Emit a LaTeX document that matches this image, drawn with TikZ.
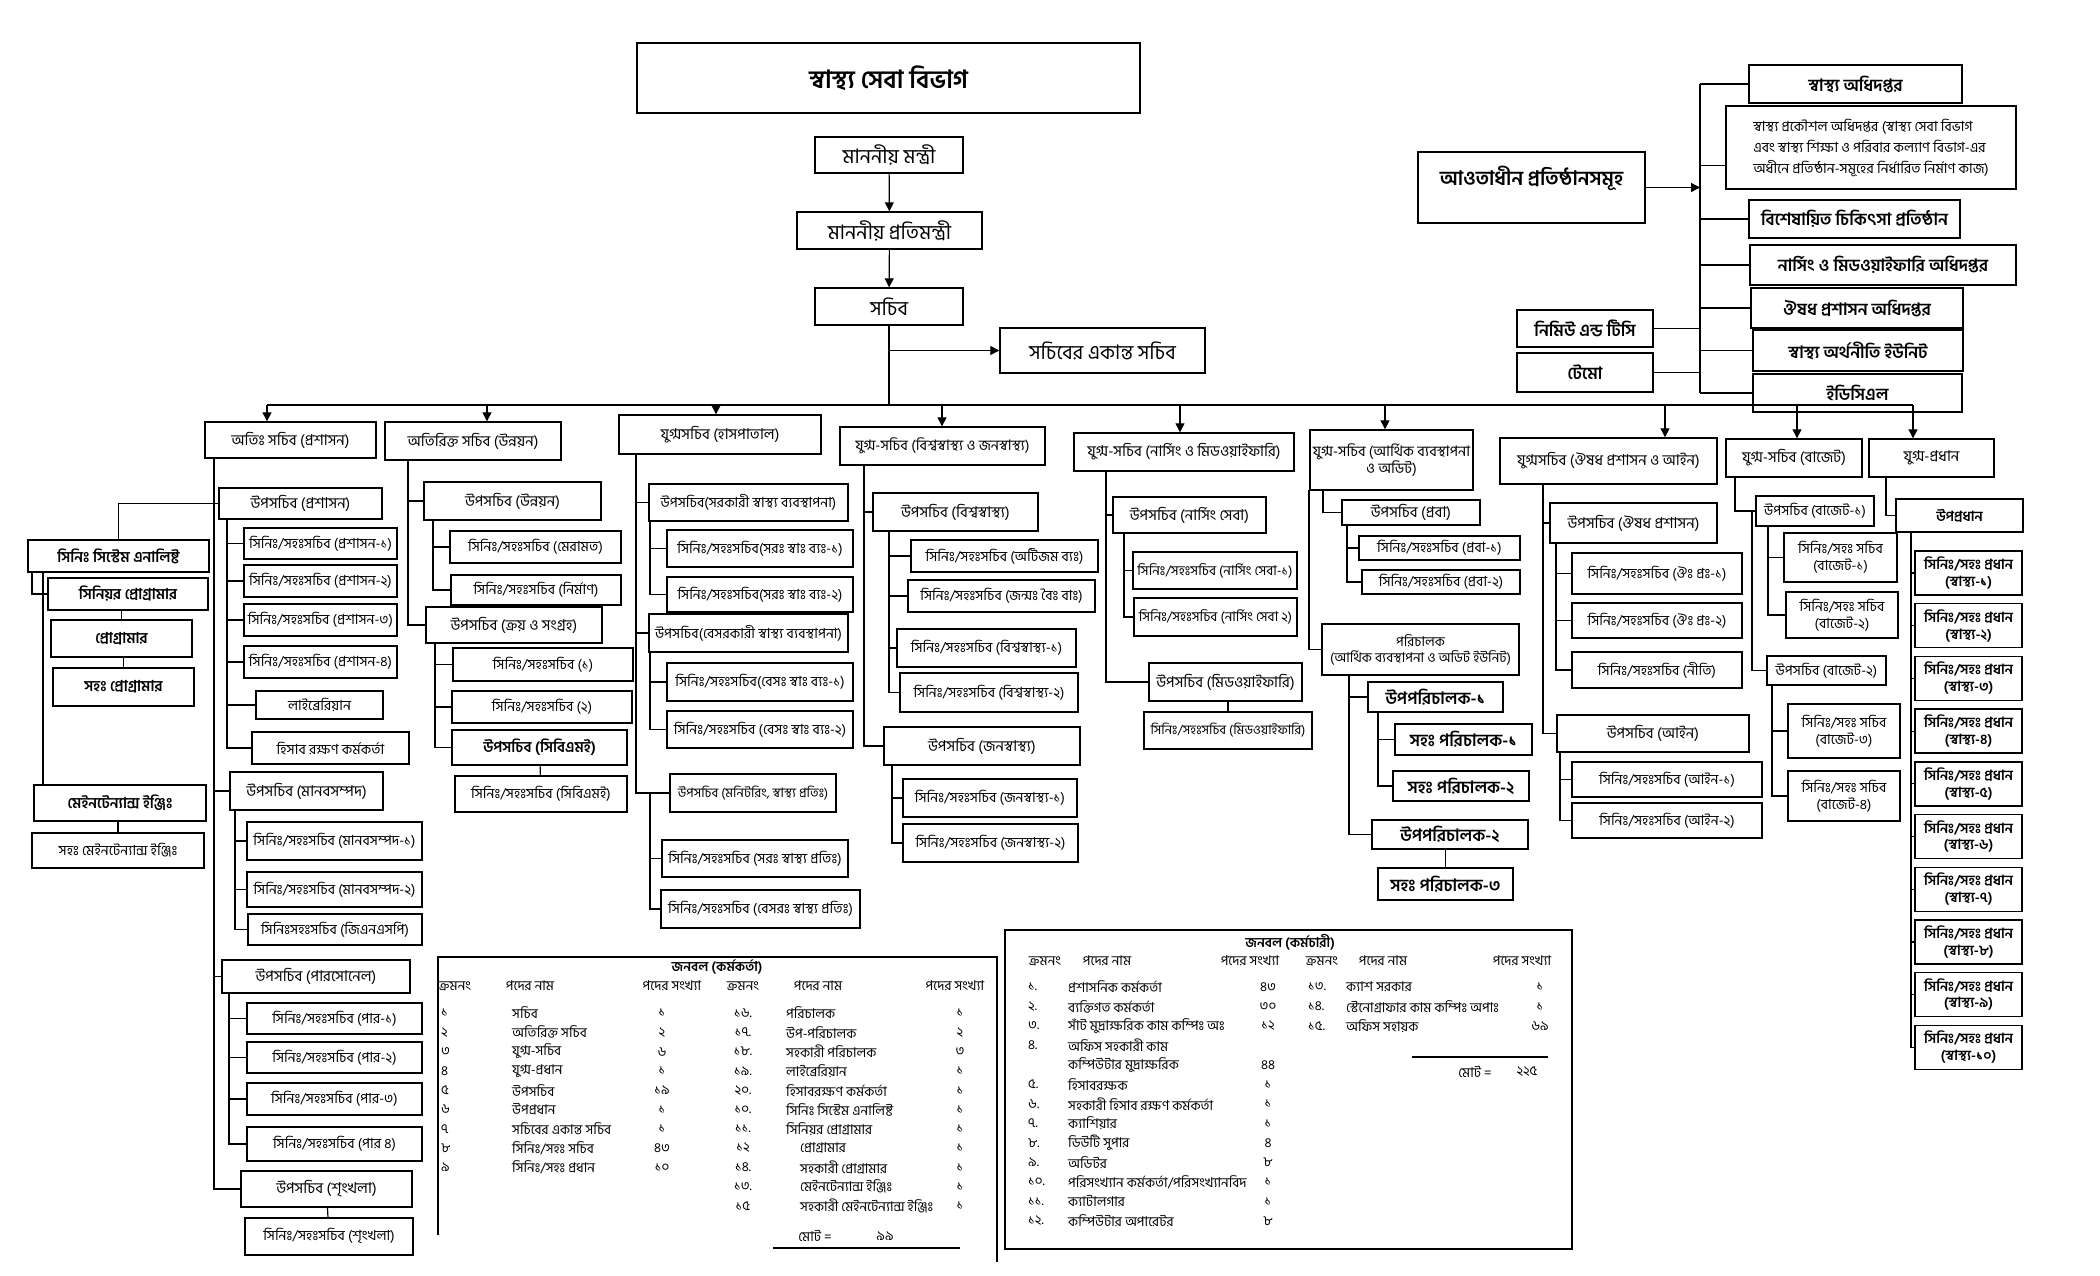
\documentclass[tikz,border=0pt]{standalone}
\usepackage{fontspec}
\newfontfamily\bn[Script=Bengali]{Hind Siliguri}
\usetikzlibrary{positioning, arrows.meta}

\tikzset{
  box/.style={draw, line width=1.4pt, inner sep=1pt, align=center, font=\bn\fontsize{14}{17}\selectfont},
  sz/.style 2 args={minimum width=#1, minimum height=#2},
  fsz/.style={font=\bn\pgfmathsetmacro\bsk{#1*1.2}\fontsize{#1}{\bsk}\selectfont},
  fbz/.style={font=\bn\bfseries\pgfmathsetmacro\bsk{#1*1.2}\fontsize{#1}{\bsk}\selectfont},
  mid/.style={fsz=15},
  big/.style={fsz=20},
  inst/.style={fbz=17},
  link/.style={line width=1.2pt},
  arr/.style={line width=1.2pt, -{Triangle[length=9pt,width=9pt]}},
  tab/.style={font=\bn\fontsize{13.5}{16}\selectfont, inner sep=0pt},
}

\begin{document}
\begin{tikzpicture}[x=1pt, y=-1pt]
    \useasboundingbox (0,0) rectangle (2100,1275);

    % ==========================================
    % 1. VERTICE (titolo, ministri, segretario)
    % ==========================================
    \node[box, sz={503}{70}, fbz=25] (titolo) at (888.5,78) {স্বাস্থ্য সেবা বিভাগ};
    \node[box, big, sz={148}{36}] (mantri) at (889,155) {মাননীয় মন্ত্রী};
    \node[box, big, sz={185}{37}] (pratimantri) at (889.5,230.5) {মাননীয় প্রতিমন্ত্রী};
    \node[box, big, sz={148}{37}] (sachib) at (889,306.5) {সচিব};
    \node[box, big, sz={205}{45}] (ps) at (1102.5,350.5) {সচিবের একান্ত সচিব};

    \draw[arr] (mantri) -- (pratimantri);
    \draw[arr] (pratimantri) -- (sachib);
    \coordinate (psb) at (889,350.5);
    \draw[arr] (psb) -- (ps.west);

    % ==========================================
    % 2. ISTITUZIONI SUBORDINATE (in alto a destra)
    % ==========================================
    \node[box, fbz=20, sz={227}{71}, text depth=24pt] (awt) at (1531.5,187.5) {আওতাধীন প্রতিষ্ঠানসমূহ};
    \node[box, inst, sz={213}{38}] (r1) at (1855.5,84) {স্বাস্থ্য অধিদপ্তর};
    \node[box, sz={290}{83}, align=left, font=\bn\fontsize{14}{21}\selectfont] (r2) at (1871,147.5) {স্বাস্থ্য প্রকৌশল অধিদপ্তর (স্বাস্থ্য সেবা বিভাগ\\এবং স্বাস্থ্য শিক্ষা ও পরিবার কল্যাণ বিভাগ-এর\\অধীনে প্রতিষ্ঠান-সমূহের নির্ধারিত নির্মাণ কাজ)};
    \node[box, inst, sz={211}{38}] (r3) at (1854.5,219) {বিশেষায়িত চিকিৎসা প্রতিষ্ঠান};
    \node[box, inst, sz={266}{40}, line width=2pt] (r4) at (1883,265) {নার্সিং ও মিডওয়াইফারি অধিদপ্তর};
    \node[box, inst, sz={212}{40}] (r5) at (1857,308) {ঔষধ প্রশাসন অধিদপ্তর};
    \node[box, inst, sz={210}{41}] (r6) at (1858,350.5) {স্বাস্থ্য অর্থনীতি ইউনিট};
    \node[box, inst, sz={209}{38}] (r7) at (1857.5,393) {ইডিসিএল};
    \node[box, inst, sz={136}{37}] (nim) at (1585,328.5) {নিমিউ এন্ড টিসি};
    \node[box, inst, sz={136}{39}] (tem) at (1585,372.5) {টেমো};

    \coordinate (rv) at (1700,187.5);
    \draw[arr] (awt.east) -- (rv);
    \draw[link] (r1.west -| rv) -- (r7.west -| rv);
    \foreach \n in {r1,r3,r4,r5,r6,r7}
        \draw[link] (\n.west -| rv) -- (\n.west);
    \draw[link] ([yshift=-18pt]r2.west -| rv) -- ([yshift=-18pt]r2.west);
    \draw[link] (nim.east) -- (nim.east -| rv);
    \draw[link] (tem.east) -- (tem.east -| rv);

    % ==========================================
    % 3. SEGRETARI AGGIUNTI (livello 1)
    % ==========================================
    \node[box, mid, sz={171}{36}] (j1) at (290.5,440) {অতিঃ সচিব (প্রশাসন)};
    \node[box, mid, sz={176}{38}] (j2) at (473,441) {অতিরিক্ত সচিব (উন্নয়ন)};
    \node[box, mid, sz={202}{39}] (j3) at (720,434.5) {যুগ্মসচিব (হাসপাতাল)};
    \node[box, fsz=14.5, sz={205}{38}] (j4) at (942.5,446) {যুগ্ম-সচিব (বিশ্বস্বাস্থ্য ও জনস্বাস্থ্য)};
    \node[box, mid, sz={220}{38}] (j5) at (1184,452) {যুগ্ম-সচিব (নার্সিং ও মিডওয়াইফারি)};
    \node[box, fsz=14.5, sz={163}{60}] (j6) at (1391.5,460) {যুগ্ম-সচিব (আর্থিক ব্যবস্থাপনা\\ও অডিট)};
    \node[box, mid, sz={217}{46}] (j7) at (1608.5,461) {যুগ্মসচিব (ঔষধ প্রশাসন ও আইন)};
    \node[box, mid, sz={136}{38}] (j8) at (1794,458) {যুগ্ম-সচিব (বাজেট)};
    \node[box, mid, sz={125}{38}] (j9) at (1931.5,458) {যুগ্ম-প্রধান};

    % bus orizzontale con le frecce
    \foreach \n/\x in {j1/267,j2/487,j3/716,j4/942,j5/1180,j6/1385,j7/1665,j8/1797,j9/1913} {
        \coordinate (b\n) at (\x,405);
        \draw[arr] (b\n) -- (b\n |- \n.north);
    }
    \draw[link] (bj1) -- (bj9);
    \draw[link] (sachib.south) -- (sachib.south |- bj1);

    % ==========================================
    % 4. COLONNA 1 - ATIRIKTA SACHIB (PRASHASAN)
    % ==========================================
    \node[box, mid, sz={163}{31}] (ups1) at (300.5,503.5) {উপসচিব (প্রশাসন)};
    \node[box, sz={153}{31}] (p1) at (320.5,543.5) {সিনিঃ/সহঃসচিব (প্রশাসন-১)};
    \node[box, sz={153}{32}] (p2) at (320.5,581) {সিনিঃ/সহঃসচিব (প্রশাসন-২)};
    \node[box, sz={153}{32}] (p3) at (320.5,620) {সিনিঃ/সহঃসচিব (প্রশাসন-৩)};
    \node[box, sz={153}{32}] (p4) at (320.5,662) {সিনিঃ/সহঃসচিব (প্রশাসন-৪)};
    \node[box, sz={127}{28}] (lib) at (319.5,705) {লাইব্রেরিয়ান};
    \node[box, sz={157}{32}] (aco) at (330.5,748) {হিসাব রক্ষণ কর্মকর্তা};
    \node[box, mid, sz={153}{38}] (ups2) at (306.5,791) {উপসচিব (মানবসম্পদ)};
    \node[box, sz={175}{38}] (hr1) at (334.5,841) {সিনিঃ/সহঃসচিব (মানবসম্পদ-১)};
    \node[box, sz={175}{35}] (hr2) at (334.5,889.5) {সিনিঃ/সহঃসচিব (মানবসম্পদ-২)};
    \node[box, sz={174}{31}] (gn) at (335,929.5) {সিনিঃসহঃসচিব (জিএনএসপি)};
    \node[box, mid, sz={188}{33}] (ups3) at (316,976.5) {উপসচিব (পারসোনেল)};
    \node[box, sz={175}{31}] (pr1) at (334.5,1018.5) {সিনিঃ/সহঃসচিব (পার-১)};
    \node[box, sz={175}{31}] (pr2) at (334.5,1057.5) {সিনিঃ/সহঃসচিব (পার-২)};
    \node[box, sz={175}{32}] (pr3) at (334.5,1099) {সিনিঃ/সহঃসচিব (পার-৩)};
    \node[box, sz={175}{34}] (pr4) at (334.5,1144) {সিনিঃ/সহঃসচিব (পার ৪)};
    \node[box, mid, sz={171}{36}] (ups4) at (326.5,1189) {উপসচিব (শৃংখলা)};
    \node[box, sz={168}{37}] (dis1) at (329,1236.5) {সিনিঃ/সহঃসচিব (শৃংখলা)};

    \coordinate (c1) at (214,458);
    \foreach \n in {ups1,ups2,ups3,ups4} \draw[link] (c1) |- (\n.west);
    \coordinate (c1a) at (227,519);
    \foreach \n in {p1,p2,p3,p4,lib,aco} \draw[link] (c1a) |- (\n.west);
    \coordinate (c1b) at (235,810);
    \foreach \n in {hr1,hr2,gn} \draw[link] (c1b) |- (\n.west);
    \coordinate (c1c) at (229,993);
    \foreach \n in {pr1,pr2,pr3,pr4} \draw[link] (c1c) |- (\n.west);
    \draw[link] (ups4) -- (dis1);

    % sezione informatica (a sinistra)
    \node[box, fbz=15, sz={181}{32}] (ssa) at (118.5,556) {সিনিঃ সিস্টেম এনালিষ্ট};
    \node[box, fbz=15, sz={160}{32}] (sp) at (128,594) {সিনিয়র প্রোগ্রামার};
    \node[box, fbz=15, sz={141}{37}] (pg) at (121.5,638.5) {প্রোগ্রামার};
    \node[box, fbz=15, sz={141}{38}] (apg) at (123.5,687) {সহঃ প্রোগ্রামার};
    \node[box, fbz=15, sz={172}{36}] (me) at (120,803) {মেইনটেন্যান্স ইঞ্জিঃ};
    \node[box, fsz=14, sz={172}{35}] (ame) at (118,850.5) {সহঃ মেইনটেন্যান্স ইঞ্জিঃ};

    \draw[link] (ups1.west) -| (ssa.north);
    \coordinate (ita) at (32,572);
    \draw[link] (ita) |- (sp.west);
    \coordinate (itb) at (43,572);
    \draw[link] (itb) -- (itb |- me.north);
    \draw[link] (pg.north) -- (pg.north |- sp.south);
    \draw[link] (apg.north) -- (apg.north |- pg.south);
    \draw[link] (ame.north) -- (ame.north |- me.south);

    % ==========================================
    % 5. COLONNA 2 - ATIRIKTA SACHIB (UNNAYAN)
    % ==========================================
    \node[box, mid, sz={177}{38}] (ud) at (512.5,501) {উপসচিব (উন্নয়ন)};
    \node[box, sz={171}{32}] (mr) at (535.5,547) {সিনিঃ/সহঃসচিব (মেরামত)};
    \node[box, sz={170}{30}] (nr) at (536,590) {সিনিঃ/সহঃসচিব (নির্মাণ)};
    \node[box, mid, sz={176}{36}] (kr) at (514,625) {উপসচিব (ক্রয় ও সংগ্রহ)};
    \node[box, sz={180}{33}] (k1) at (543,664.5) {সিনিঃ/সহঃসচিব (১)};
    \node[box, sz={180}{32}] (k2) at (542,707) {সিনিঃ/সহঃসচিব (২)};
    \node[box, fbz=15, sz={175}{35}] (cb) at (539.5,747.5) {উপসচিব (সিবিএমই)};
    \node[box, sz={172}{36}] (cb1) at (541,794) {সিনিঃ/সহঃসচিব (সিবিএমই)};

    \coordinate (c2) at (408,460);
    \foreach \n in {ud,kr} \draw[link] (c2) |- (\n.west);
    \coordinate (c2a) at (433,520);
    \foreach \n in {mr,nr} \draw[link] (c2a) |- (\n.west);
    \coordinate (c2b) at (435,643);
    \foreach \n in {k1,k2,cb} \draw[link] (c2b) |- (\n.west);
    \draw[link] (cb) -- (cb1);

    % ==========================================
    % 6. COLONNA 3 - OSPEDALI
    % ==========================================
    \node[box, sz={199}{37}] (sg) at (748.5,502.5) {উপসচিব(সরকারী স্বাস্থ্য ব্যবস্থাপনা)};
    \node[box, sz={186}{37}] (sg1) at (760,548.5) {সিনিঃ/সহঃসচিব(সরঃ স্বাঃ ব্যঃ-১)};
    \node[box, sz={186}{35}] (sg2) at (760,594.5) {সিনিঃ/সহঃসচিব(সরঃ স্বাঃ ব্যঃ-২)};
    \node[box, sz={199}{38}] (pv) at (748.5,633) {উপসচিব(বেসরকারী স্বাস্থ্য ব্যবস্থাপনা)};
    \node[box, sz={186}{38}] (pv1) at (760,682) {সিনিঃ/সহঃসচিব(বেসঃ স্বাঃ ব্যঃ-১)};
    \node[box, sz={186}{37}] (pv2) at (760,729.5) {সিনিঃ/সহঃসচিব (বেসঃ স্বাঃ ব্যঃ-২)};
    \node[box, fsz=13, sz={166}{38}] (mn) at (753,793) {উপসচিব (মনিটরিং, স্বাস্থ্য প্রতিঃ)};
    \node[box, sz={186}{37}] (mn1) at (755,858.5) {সিনিঃ/সহঃসচিব (সরঃ স্বাস্থ্য প্রতিঃ)};
    \node[box, sz={199}{38}] (mn2) at (760.5,909) {সিনিঃ/সহঃসচিব (বেসরঃ স্বাস্থ্য প্রতিঃ)};

    \coordinate (c3) at (636,454);
    \foreach \n in {sg,pv,mn} \draw[link] (c3) |- (\n.west);
    \coordinate (c3a) at (650,521);
    \foreach \n in {sg1,sg2} \draw[link] (c3a) |- (\n.west);
    \coordinate (c3b) at (650,652);
    \foreach \n in {pv1,pv2} \draw[link] (c3b) |- (\n.west);
    \coordinate (c3c) at (650,793);
    \foreach \n in {mn1,mn2} \draw[link] (c3c) |- (\n.west);

    % ==========================================
    % 7. COLONNA 4 - SALUTE GLOBALE E PUBBLICA
    % ==========================================
    \node[box, mid, sz={165}{38}] (wh) at (955.5,512) {উপসচিব (বিশ্বস্বাস্থ্য)};
    \node[box, sz={187}{32}] (wh1) at (1004.5,556) {সিনিঃ/সহঃসচিব (অটিজম ব্যঃ)};
    \node[box, sz={187}{32}] (wh2) at (1001.5,596) {সিনিঃ/সহঃসচিব (জন্মঃ বৈঃ বাঃ)};
    \node[box, sz={179}{38}] (wh3) at (986.5,648) {সিনিঃ/সহঃসচিব (বিশ্বস্বাস্থ্য-১)};
    \node[box, sz={178}{39}] (wh4) at (989,692.5) {সিনিঃ/সহঃসচিব (বিশ্বস্বাস্থ্য-২)};
    \node[box, mid, sz={196}{38}] (ph) at (982,746) {উপসচিব (জনস্বাস্থ্য)};
    \node[box, sz={174}{38}] (ph1) at (990,798) {সিনিঃ/সহঃসচিব (জনস্বাস্থ্য-১)};
    \node[box, sz={175}{38}] (ph2) at (990.5,843) {সিনিঃ/সহঃসচিব (জনস্বাস্থ্য-২)};

    \coordinate (c4) at (864,465);
    \foreach \n in {wh,ph} \draw[link] (c4) |- (\n.west);
    \coordinate (c4a) at (889,531);
    \foreach \n in {wh1,wh2,wh3,wh4} \draw[link] (c4a) |- (\n.west);
    \coordinate (c4b) at (892,765);
    \foreach \n in {ph1,ph2} \draw[link] (c4b) |- (\n.west);

    % ==========================================
    % 8. COLONNA 5 - INFERMIERISTICA
    % ==========================================
    \node[box, mid, sz={153}{36}] (ns) at (1189.5,515) {উপসচিব (নার্সিং সেবা)};
    \node[box, fsz=13.5, sz={164}{37}] (ns1) at (1215,570.5) {সিনিঃ/সহঃসচিব (নার্সিং সেবা-১)};
    \node[box, fsz=13.5, sz={163}{38}] (ns2) at (1215.5,617) {সিনিঃ/সহঃসচিব (নার্সিং সেবা ২)};
    \node[box, mid, sz={153}{38}] (mw) at (1225.5,682) {উপসচিব (মিডওয়াইফারি)};
    \node[box, fsz=13, sz={168}{37}] (mw1) at (1228,730.5) {সিনিঃ/সহঃসচিব (মিডওয়াইফারি)};

    \coordinate (c5) at (1106,471);
    \foreach \n in {ns,mw} \draw[link] (c5) |- (\n.west);
    \coordinate (c5a) at (1124,533);
    \foreach \n in {ns1,ns2} \draw[link] (c5a) |- (\n.west);
    \draw[link] (mw1.north) -- (mw1.north |- mw.south);

    % ==========================================
    % 9. COLONNA 6 - GESTIONE FINANZIARIA
    % ==========================================
    \node[box, mid, sz={138}{25}] (pb) at (1411,512.5) {উপসচিব (প্রবা)};
    \node[box, sz={161}{24}] (pb1) at (1439.5,548) {সিনিঃ/সহঃসচিব (প্রবা-১)};
    \node[box, sz={158}{24}] (pb2) at (1441,582) {সিনিঃ/সহঃসচিব (প্রবা-২)};
    \node[box, fsz=13.5, sz={197}{51}] (dr) at (1420.5,649.5) {পরিচালক\\(আর্থিক ব্যবস্থাপনা ও অডিট ইউনিট)};
    \node[box, fbz=17, sz={135}{30}] (dd1) at (1435.5,697) {উপপরিচালক-১};
    \node[box, fbz=17, sz={137}{31}] (ad1) at (1463.5,739.5) {সহঃ পরিচালক-১};
    \node[box, fbz=17, sz={136}{30}] (ad2) at (1461,786) {সহঃ পরিচালক-২};
    \node[box, fbz=17, sz={156}{29}] (dd2) at (1450,834.5) {উপপরিচালক-২};
    \node[box, fbz=17, sz={135}{32}] (ad3) at (1445.5,884) {সহঃ পরিচালক-৩};

    \coordinate (c6) at (1309,490);
    \draw[link] (c6) |- (dr.west);
    \coordinate (c6p) at (1323,490);
    \draw[link] (c6p) |- (pb.west);
    \coordinate (c6a) at (1347,525);
    \foreach \n in {pb1,pb2} \draw[link] (c6a) |- (\n.west);
    \coordinate (c6b) at (1349,675);
    \foreach \n in {dd1,dd2} \draw[link] (c6b) |- (\n.west);
    \coordinate (c6c) at (1378,712);
    \foreach \n in {ad1,ad2} \draw[link] (c6c) |- (\n.west);
    \draw[link] (ad3.north) -- (ad3.north |- dd2.south);

    % ==========================================
    % 10. COLONNA 7 - FARMACI E LEGGE
    % ==========================================
    \node[box, mid, sz={167}{40}] (od) at (1633.5,523) {উপসচিব (ঔষধ প্রশাসন)};
    \node[box, sz={170}{41}] (od1) at (1657,573.5) {সিনিঃ/সহঃসচিব (ঔঃ প্রঃ-১)};
    \node[box, sz={170}{35}] (od2) at (1657,620.5) {সিনিঃ/সহঃসচিব (ঔঃ প্রঃ-২)};
    \node[box, sz={170}{36}] (od3) at (1657,670) {সিনিঃ/সহঃসচিব (নীতি)};
    \node[box, mid, sz={192}{37}] (law) at (1653,733.5) {উপসচিব (আইন)};
    \node[box, sz={190}{35}] (lw1) at (1667,779.5) {সিনিঃ/সহঃসচিব (আইন-১)};
    \node[box, sz={190}{35}] (lw2) at (1667,820.5) {সিনিঃ/সহঃসচিব (আইন-২)};

    \coordinate (c7) at (1543,484);
    \foreach \n in {od,law} \draw[link] (c7) |- (\n.west);
    \coordinate (c7a) at (1556,543);
    \foreach \n in {od1,od2,od3} \draw[link] (c7a) |- (\n.west);
    \coordinate (c7b) at (1560,752);
    \foreach \n in {lw1,lw2} \draw[link] (c7b) |- (\n.west);

    % ==========================================
    % 11. COLONNA 8 - BILANCIO
    % ==========================================
    \node[box, sz={118}{30}] (ub1) at (1815,511) {উপসচিব (বাজেট-১)};
    \node[box, sz={113}{49}] (bg1) at (1840.5,557.5) {সিনিঃ/সহঃ সচিব\\(বাজেট-১)};
    \node[box, sz={112}{46}] (bg2) at (1842,615) {সিনিঃ/সহঃ সচিব\\(বাজেট-২)};
    \node[box, sz={119}{29}] (ub2) at (1826.5,670.5) {উপসচিব (বাজেট-২)};
    \node[box, sz={112}{54}] (bg3) at (1844,731) {সিনিঃ/সহঃ সচিব\\(বাজেট-৩)};
    \node[box, sz={112}{50}] (bg4) at (1844,796) {সিনিঃ/সহঃ সচিব\\(বাজেট-৪)};

    \coordinate (c8) at (1735,477);
    \draw[link] (c8) |- (ub1.west);
    \coordinate (c8b) at (1752,511);
    \draw[link] (c8b) |- (ub2.west);
    \coordinate (c8a) at (1768,526);
    \foreach \n in {bg1,bg2} \draw[link] (c8a) |- (\n.west);
    \coordinate (c8c) at (1772,685);
    \foreach \n in {bg3,bg4} \draw[link] (c8c) |- (\n.west);

    % ==========================================
    % 12. COLONNA 9 - CAPO CONGIUNTO
    % ==========================================
    \node[box, fbz=14, sz={127}{33}] (upd) at (1959.5,515.5) {উপপ্রধান};
    \foreach \i/\b in {1/১,2/২,3/৩,4/৪,5/৫,6/৬,7/৭,8/৮,9/৯,10/১০}
        \node[box, fbz=14, sz={107}{44}] (hd\i) at (1968.5,{573+(\i-1)*52.7}) {সিনিঃ/সহঃ প্রধান\\(স্বাস্থ্য-\b)};

    \coordinate (c9) at (1886,477);
    \draw[link] (c9) |- (upd.west);
    \coordinate (c9a) at (1911,532);
    \foreach \i in {1,...,10} \draw[link] (c9a) |- (hd\i.west);

    % ==========================================
    % 13. TABELLA: JANABAL (KARMAKARTA)
    % ==========================================
    \draw[link] (438,1235) |- (997,957) -- (997,1262);
    \node[tab, font=\bn\bfseries\fontsize{13.5}{16}\selectfont] (k1tit) at (717,967) {জনবল (কর্মকর্তা)};
    \node[tab] (k1h1) at (455,986) {ক্রমনং};
    \node[tab] (k1h2) at (530,986) {পদের নাম};
    \node[tab] (k1h3) at (672,986) {পদের সংখ্যা};
    \node[tab] (k1h4) at (743,986) {ক্রমনং};
    \node[tab] (k1h5) at (818,986) {পদের নাম};
    \node[tab] (k1h6) at (955,986) {পদের সংখ্যা};
    \foreach \s/\p/\c [count=\i] in {১/সচিব/১, ২/অতিরিক্ত সচিব/২, ৩/যুগ্ম-সচিব/৬, ৪/যুগ্ম-প্রধান/১,
        ৫/উপসচিব/১৯, ৬/উপপ্রধান/১, ৭/সচিবের একান্ত সচিব/১, ৮/{সিনিঃ/সহঃ সচিব}/৪৩, ৯/{সিনিঃ/সহঃ প্রধান}/১০} {
        \node[tab, anchor=west] (ka\i) at (441,{1013+(\i-1)*19.3}) {\s};
        \node[tab, anchor=west] (kb\i) at (512,{1013+(\i-1)*19.3}) {\p};
        \node[tab] (kc\i) at (662,{1013+(\i-1)*19.3}) {\c};
    }
    \foreach \s/\p/\c/\d [count=\i] in {১৬./পরিচালক/১/0, ১৭./উপ-পরিচালক/২/0, ১৮./সহকারী পরিচালক/৩/0,
        ১৯./লাইব্রেরিয়ান/১/0, ২০./হিসাবরক্ষণ কর্মকর্তা/১/0, ১০./সিনিঃ সিস্টেম এনালিষ্ট/১/0,
        ১১./সিনিয়র প্রোগ্রামার/১/0, ১২/প্রোগ্রামার/১/14, ১৪./সহকারী প্রোগ্রামার/১/14,
        ১৩./মেইনটেন্যান্স ইঞ্জিঃ/১/14, ১৫/সহকারী মেইনটেন্যান্স ইঞ্জিঃ/১/14} {
        \node[tab] (kd\i) at (743,{1013+(\i-1)*19.3}) {\s};
        \node[tab, anchor=west] (ke\i) at ({786+\d},{1013+(\i-1)*19.3}) {\p};
        \node[tab] (kf\i) at (960,{1013+(\i-1)*19.3}) {\c};
    }
    \node[tab] (k1mot) at (815,1236) {মোট =};
    \node[tab] (k1tot) at (885,1236) {৯৯};
    \coordinate (k1l) at (773,1248);
    \draw[link] (k1l) -- ++(187,0);

    % ==========================================
    % 14. TABELLA: JANABAL (KARMACHARI)
    % ==========================================
    \draw[link] (1005,930) rectangle (1572,1249);
    \node[tab, font=\bn\bfseries\fontsize{13.5}{16}\selectfont] (k2tit) at (1290,942) {জনবল (কর্মচারী)};
    \node[tab] (k2h1) at (1045,961) {ক্রমনং};
    \node[tab] (k2h2) at (1107,961) {পদের নাম};
    \node[tab] (k2h3) at (1250,961) {পদের সংখ্যা};
    \node[tab] (k2h4) at (1322,961) {ক্রমনং};
    \node[tab] (k2h5) at (1383,961) {পদের নাম};
    \node[tab] (k2h6) at (1522,961) {পদের সংখ্যা};
    \foreach \s/\p/\c [count=\i] in {১./প্রশাসনিক কর্মকর্তা/৪৩, ২./ব্যক্তিগত কর্মকর্তা/৩০,
        ৩./সাঁট মুদ্রাক্ষরিক কাম কম্পিঃ অঃ/১২, ৪./অফিস সহকারী কাম/{}, {}/কম্পিউটার মুদ্রাক্ষরিক/৪৪,
        ৫./হিসাবরক্ষক/১, ৬./সহকারী হিসাব রক্ষণ কর্মকর্তা/১, ৭./ক্যাশিয়ার/১, ৮./ডিউটি সুপার/৪,
        ৯./অডিটর/৮, ১০./{পরিসংখ্যান কর্মকর্তা/পরিসংখ্যানবিদ}/১, ১১./ক্যাটালগার/১, ১২./কম্পিউটার অপারেটর/৮} {
        \node[tab, anchor=west] (ma\i) at (1028,{987+(\i-1)*19.5}) {\s};
        \node[tab, anchor=west] (mb\i) at (1068,{987+(\i-1)*19.5}) {\p};
        \node[tab] (mc\i) at (1268,{987+(\i-1)*19.5}) {\c};
    }
    \foreach \s/\p/\c [count=\i] in {১৩./ক্যাশ সরকার/১, ১৪./স্টেনোগ্রাফার কাম কম্পিঃ অপাঃ/১, ১৫./অফিস সহায়ক/৬৯} {
        \node[tab, anchor=west] (md\i) at (1308,{987+(\i-1)*19.5}) {\s};
        \node[tab, anchor=west] (me\i) at (1346,{987+(\i-1)*19.5}) {\p};
        \node[tab] (mf\i) at (1540,{987+(\i-1)*19.5}) {\c};
    }
    \coordinate (k2l) at (1412,1057);
    \draw[link] (k2l) -- ++(136,0);
    \node[tab] (k2mot) at (1475,1072) {মোট =};
    \node[tab] (k2tot) at (1527,1072) {২২৫};

\end{tikzpicture}
\end{document}
